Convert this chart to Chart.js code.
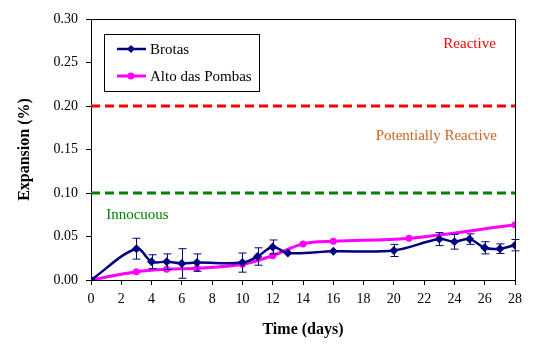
<!DOCTYPE html>
<html>
<head>
<meta charset="utf-8">
<script src="https://cdn.jsdelivr.net/npm/chart.js@4/dist/chart.umd.min.js"></script>
<style>
  html, body { margin: 0; padding: 0; background: #fff; }
  #wrap { width: 544px; height: 355px; }
</style>
</head>
<body>
<div id="wrap"><canvas id="c" width="544" height="355"></canvas></div>
<script>
// ---- Data ----
const brotasDays = [0, 3, 4, 5, 6, 7, 10, 11, 12, 13, 16, 20, 23, 24, 25, 26, 27, 28];
const brotasExp  = [0, 0.036, 0.021, 0.021, 0.019, 0.020, 0.020, 0.027, 0.038, 0.031, 0.033, 0.034, 0.047, 0.044, 0.047, 0.037, 0.036, 0.040];
const brotasErr  = [0, 0.012, 0.008, 0.009, 0.017, 0.010, 0.011, 0.010, 0.008, 0, 0, 0.007, 0.0075, 0.0085, 0.006, 0.007, 0.0055, 0.0065];

const pombasDays = [0, 3, 5, 7, 10, 12, 14, 16, 21, 28];
const pombasExp  = [0, 0.0095, 0.0125, 0.0135, 0.018, 0.028, 0.0415, 0.0445, 0.048, 0.0635];

const limitDays = [0, 28];
const reactiveLimit = 0.20;
const innocuousLimit = 0.10;

const xTicks = { min: 0, max: 28, step: 2 };
const yTicks = { min: 0, max: 0.30, step: 0.05 };

// zone labels: [text, day, expansion, colour, align]
const zoneLabels = [
  ['Reactive', 25.0, 0.271, '#FF0000', 'center'],
  ['Potentially Reactive', 22.8, 0.165, '#C8641E', 'center'],
  ['Innocuous', 1.0, 0.075, '#008000', 'left'],
];

const serif = '"Liberation Serif", "Times New Roman", serif';
const pts = (xs, ys) => xs.map((x, i) => ({ x, y: ys[i] }));

/* ── plugin: frame, error bars, zone labels, legend ───── */
const extras = {
  id: 'extras',
  beforeDatasetsDraw(chart) {
    const { ctx } = chart;
    const xs = chart.scales.x, ys = chart.scales.y;
    ctx.save();
    ctx.font = '15px ' + serif;
    ctx.textBaseline = 'middle';
    zoneLabels.forEach(([t, d, v, col, al]) => {
      ctx.fillStyle = col;
      ctx.textAlign = al;
      ctx.fillText(t, xs.getPixelForValue(d), ys.getPixelForValue(v));
    });
    ctx.restore();
  },
  afterDatasetsDraw(chart) {
    const { ctx, chartArea: a } = chart;
    const xs = chart.scales.x, ys = chart.scales.y;
    ctx.save();
    // error bars on Brotas
    ctx.strokeStyle = '#000080';
    ctx.lineWidth = 1;
    brotasDays.forEach((d, i) => {
      const e = brotasErr[i];
      if (!e) return;
      const px = Math.round(xs.getPixelForValue(d)) + 0.5;
      const t = ys.getPixelForValue(brotasExp[i] + e);
      const b = ys.getPixelForValue(brotasExp[i] - e);
      ctx.beginPath();
      ctx.moveTo(px, t); ctx.lineTo(px, b);
      ctx.moveTo(px - 4, t); ctx.lineTo(px + 4, t);
      ctx.moveTo(px - 4, b); ctx.lineTo(px + 4, b);
      ctx.stroke();
    });
    // frame
    ctx.strokeStyle = '#000';
    ctx.beginPath();
    ctx.moveTo(a.left, a.top + 0.5); ctx.lineTo(a.right + 0.5, a.top + 0.5);
    ctx.lineTo(a.right + 0.5, a.bottom);
    ctx.stroke();

    // legend box
    const lx = a.left + 13, ly = a.top + 15, lw = 155, lh = 57;
    ctx.fillStyle = '#fff';
    ctx.fillRect(lx, ly, lw, lh);
    ctx.strokeRect(lx + 0.5, ly + 0.5, lw, lh);
    const items = [
      ['Brotas', '#000080', 'diamond', 2.5],
      ['Alto das Pombas', '#FF00FF', 'circle', 3],
    ];
    items.forEach(([label, col, shape, lwid], i) => {
      const y = ly + 15 + i * 27;
      ctx.strokeStyle = col;
      ctx.lineWidth = lwid;
      ctx.beginPath();
      ctx.moveTo(lx + 13, y); ctx.lineTo(lx + 42, y);
      ctx.stroke();
      ctx.fillStyle = col;
      ctx.beginPath();
      if (shape === 'diamond') {
        const cx = lx + 27;
        ctx.moveTo(cx, y - 4); ctx.lineTo(cx + 4, y); ctx.lineTo(cx, y + 4); ctx.lineTo(cx - 4, y);
        ctx.closePath();
      } else {
        ctx.arc(lx + 27, y, 3.5, 0, Math.PI * 2);
      }
      ctx.fill();
      ctx.fillStyle = '#000';
      ctx.font = '15px ' + serif;
      ctx.textAlign = 'left';
      ctx.textBaseline = 'middle';
      ctx.fillText(label, lx + 46, y + 1);
    });
    ctx.restore();
  },
};

new Chart(document.getElementById('c'), {
  type: 'line',
  data: {
    datasets: [
      {
        label: 'Reactive limit',
        data: pts(limitDays, [reactiveLimit, reactiveLimit]),
        borderColor: '#FF0000',
        borderWidth: 3,
        borderDash: [9, 5],
        pointRadius: 0,
        order: 3,
      },
      {
        label: 'Innocuous limit',
        data: pts(limitDays, [innocuousLimit, innocuousLimit]),
        borderColor: '#008000',
        borderWidth: 3,
        borderDash: [9, 5],
        pointRadius: 0,
        order: 3,
      },
      {
        label: 'Alto das Pombas',
        data: pts(pombasDays, pombasExp),
        borderColor: '#FF00FF',
        backgroundColor: '#FF00FF',
        borderWidth: 3,
        tension: 0.35,
        pointStyle: 'circle',
        pointRadius: 3.5,
        pointBorderWidth: 0,
        order: 2,
      },
      {
        label: 'Brotas',
        data: pts(brotasDays, brotasExp),
        borderColor: '#000080',
        backgroundColor: '#000080',
        borderWidth: 2.5,
        tension: 0.35,
        pointStyle: 'rectRot',
        pointRadius: 4.5,
        pointBorderWidth: 0,
        order: 1,
      },
    ],
  },
  options: {
    responsive: false,
    animation: false,
    layout: { padding: { left: 0, top: 19, right: 29, bottom: 0 } },
    plugins: {
      legend: { display: false },
      tooltip: { enabled: false },
    },
    scales: {
      x: {
        type: 'linear',
        min: xTicks.min,
        max: xTicks.max,
        ticks: {
          stepSize: xTicks.step,
          color: '#000',
          font: { family: serif, size: 14 },
          padding: 6,
          maxRotation: 0,
        },
        grid: { drawOnChartArea: false, tickLength: 5, color: '#000' },
        border: { color: '#000', width: 1 },
        title: {
          display: true,
          text: 'Time (days)',
          color: '#000',
          font: { family: serif, size: 16, weight: 'bold' },
          padding: { top: 4, bottom: 16 },
        },
        afterFit: (s) => { s.height = 75; },
      },
      y: {
        min: yTicks.min,
        max: yTicks.max,
        ticks: {
          stepSize: yTicks.step,
          color: '#000',
          font: { family: serif, size: 14 },
          padding: 8,
          callback: (v) => v.toFixed(2),
        },
        grid: { drawOnChartArea: false, tickLength: 5, color: '#000' },
        border: { color: '#000', width: 1 },
        title: {
          display: true,
          text: 'Expansion (%)',
          color: '#000',
          font: { family: serif, size: 16, weight: 'bold' },
          padding: { top: 15, bottom: 0 },
        },
        afterFit: (s) => { s.width = 91; },
      },
    },
  },
  plugins: [extras],
});
</script>
</body>
</html>
